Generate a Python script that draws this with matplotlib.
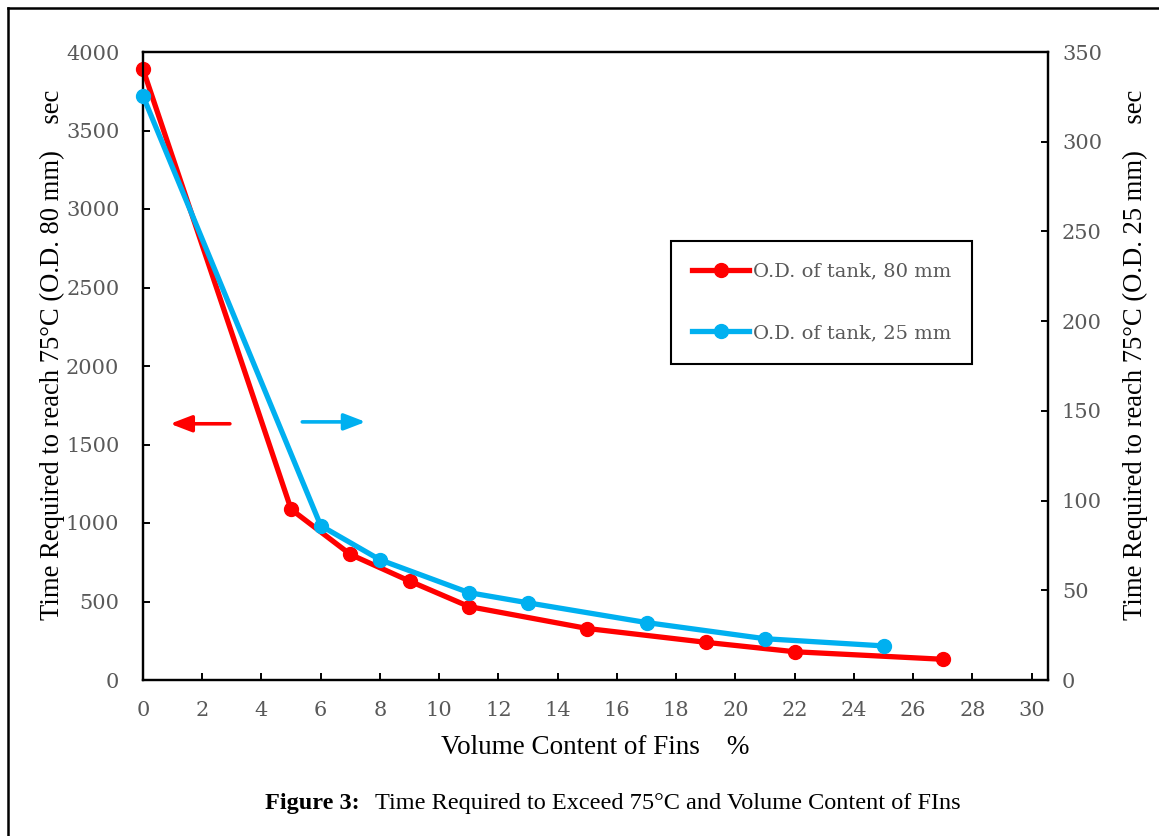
import numpy as np
import matplotlib.pyplot as plt
from matplotlib.lines import Line2D

# volume content of fins (%) and time to reach 75 C (sec)
fins_80 = [0, 5, 7, 9, 11, 15, 19, 22, 27]
time_80 = [3890, 1087, 800, 630, 468, 328, 240, 180, 132]
fins_25 = [0, 6, 8, 11, 13, 17, 21, 25]
time_25 = [325.5, 86, 67, 48.7, 43, 32, 23, 19]

red = '#FF0000'
blue = '#00B0F0'
gray = '#595959'
tickfont = 'DejaVu Serif'
labfont = 'Liberation Serif'

fig = plt.figure(figsize=(11.59, 8.36), dpi=100)
ax = fig.add_axes([143/1159, 1-680/836, 905/1159, 628/836])
ax2 = ax.twinx()

l1, = ax.plot(fins_80, time_80, color=red, lw=3.8, marker='o', ms=10,
              clip_on=False, zorder=3, label='O.D. of tank, 80 mm')
l2, = ax2.plot(fins_25, time_25, color=blue, lw=3.8, marker='o', ms=10,
               clip_on=False, zorder=3, label='O.D. of tank, 25 mm')

ax.set_xlim(0, 30.55)
ax.set_ylim(0, 4000)
ax2.set_ylim(0, 350)
ax.set_xticks(np.arange(0, 31, 2))
ax.set_yticks(np.arange(0, 4001, 500))
ax2.set_yticks(np.arange(0, 351, 50))

for a in (ax, ax2):
    for s in a.spines.values():
        s.set_linewidth(1.6)
        s.set_color('black')
    for lab in a.get_xticklabels() + a.get_yticklabels():
        lab.set_fontfamily(tickfont)
ax.tick_params(axis='both', direction='in', length=5, width=1.4,
               labelsize=15, labelcolor=gray)
ax.tick_params(axis='y', pad=17)
ax.tick_params(axis='x', pad=15)
ax2.tick_params(axis='y', direction='in', length=5, width=1.4,
                labelsize=15, labelcolor=gray, pad=10)

# axis titles
fig.text(52/1159, 1-355/836, 'Time Required to reach 75\u00b0C (O.D. 80 mm)    sec',
         rotation=90, ha='center', va='center', fontsize=19.2, family=labfont)
fig.text(1135/1159, 1-355/836, 'Time Required to reach 75\u00b0C (O.D. 25 mm)    sec',
         rotation=90, ha='center', va='center', fontsize=19.2, family=labfont)
fig.text(595/1159, 1-748/836, 'Volume Content of Fins    %',
         ha='center', va='center', fontsize=19.5, family=labfont)

# caption
fig.text(360/1159, 1-803/836, 'Figure 3:', ha='right', va='center',
         fontsize=17.5, weight='bold', family=labfont)
fig.text(375/1159, 1-803/836, 'Time Required to Exceed 75\u00b0C and Volume Content of FIns',
         ha='left', va='center', fontsize=17.5, family=labfont)

# arrows telling which axis belongs to which curve
arrow = '-|>,head_length=1.3,head_width=0.5'
ax.annotate('', xy=(0.030, 0.408), xytext=(0.096, 0.408), xycoords='axes fraction',
            arrowprops=dict(arrowstyle=arrow, color=red, lw=2.6, shrinkA=0, shrinkB=0))
ax.annotate('', xy=(0.246, 0.411), xytext=(0.176, 0.411), xycoords='axes fraction',
            arrowprops=dict(arrowstyle=arrow, color=blue, lw=2.6, shrinkA=0, shrinkB=0))

leg = ax2.legend(handles=[l1, l2], loc='upper left', borderaxespad=0,
                 bbox_to_anchor=(671/1159, 1-241/836), bbox_transform=fig.transFigure,
                 prop={'family': tickfont, 'size': 14}, labelcolor=gray,
                 fancybox=False, edgecolor='black', framealpha=1,
                 handlelength=2.9, handletextpad=0.2, labelspacing=2.25,
                 borderpad=1.1, numpoints=1)
leg.get_frame().set_linewidth(1.5)

# page frame (top and left edges)
fig.add_artist(Line2D([8/1159, 8/1159], [0, 1-8/836], color='black', lw=1.8,
                      transform=fig.transFigure))
fig.add_artist(Line2D([8/1159, 1], [1-8/836, 1-8/836], color='black', lw=1.8,
                      transform=fig.transFigure))

fig.savefig('out.png', dpi=100)
